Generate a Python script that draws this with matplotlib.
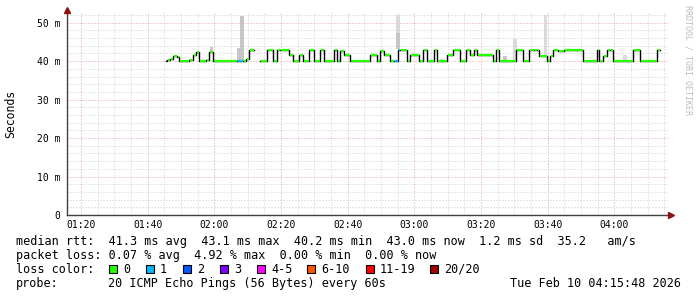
import numpy as np
import matplotlib.pyplot as plt
from matplotlib.patches import Rectangle

W, H = 697, 297

# time in minutes after 01:20, median rtt in ms, lost pings of 20
step_t = [25.5, 25.9, 26.7, 27.7, 28.7, 29.5, 32.5, 33.7, 34.5, 35.5, 37.5, 38.5,
          39.7, 46.7, 48.7, 49.5, 50.5, 51.9, 53.7, 55.7, 57.7, 58.7, 59.7, 62.4,
          63.7, 65.4, 66.7, 68.4, 70.0, 71.6, 73.0, 75.8, 76.8, 77.6, 79.0, 80.7,
          86.7, 88.7, 89.7, 90.9, 92.7, 94.0, 95.0, 95.7, 97.7, 98.7, 101.5, 102.7,
          103.7, 105.9, 106.7, 109.7, 111.7, 113.7, 115.5, 116.7, 117.9, 118.7, 123.7,
          124.5, 125.5, 130.5, 132.7, 134.5, 135.9, 136.9, 137.5, 139.7, 140.7, 141.7,
          143.0, 145.0, 150.7, 154.7, 155.4, 156.7, 157.7, 158.7, 159.7, 165.7, 167.7,
          172.7]
step_ms = [40.0, 40.3, 40.5, 41.4, 41.1, 40.0, 40.3, 41.7, 42.4, 40.0, 40.3, 42.4,
           40.0, 40.0, 40.0, 40.5, 42.8, np.nan, 40.0, 42.8, 40.0, 42.8, 43.0, 41.5,
           40.0, 41.5, 40.0, 42.9, 40.0, 42.9, 40.0, 42.9, 40.0, 42.6, 41.5, 40.0,
           41.5, 40.0, 42.6, 41.5, 40.0, 40.0, 42.9, 42.8, 40.0, 41.5, 40.0, 42.8,
           40.0, 42.8, 40.0, 41.5, 42.8, 40.0, 42.9, 41.5, 42.9, 41.5, 40.0,
           42.9, 40.0, 42.8, 40.0, 42.8, 43.0, 42.8, 41.4, 40.0, 41.4, 42.9,
           42.6, 42.8, 40.0, 42.8, 40.0, 41.4, 42.8, 42.9, 40.0, 42.9, 40.0,
           42.9]
step_loss = [0] * len(step_t)
step_loss[13] = 1
step_loss[41] = 1
step_loss[42] = 1
t_last = 173.7

# smoke (spread of the 20 pings)
smoke_t0 = [38.6, 46.7, 47.6, 94.6, 94.6, 107.7, 113.7, 126.7, 129.7, 138.9, 146.7, 162.7]
smoke_t1 = [39.6, 48.9, 48.9, 95.6, 95.6, 108.7, 114.7, 127.7, 130.7, 139.7, 149.7, 163.7]
smoke_lo = [42.4, 40.0, 43.3, 43.2, 47.3, 40.0, 40.0, 40.0, 40.0, 41.4, 42.8, 40.0]
smoke_hi = [43.6, 43.3, 51.8, 47.3, 52.0, 40.6, 40.4, 41.4, 45.7, 52.0, 43.1, 41.7]
smoke_dense = [1, 1, 1, 1, 0, 0, 0, 1, 0, 0, 0, 0]

loss_labels = ['0', '1', '2', '3', '4-5', '6-10', '11-19', '20/20']
loss_colors = ['#26ff00', '#00b8ff', '#0059ff', '#7e00ff', '#ff00ff', '#ff5500', '#ff0000', '#a10000']

x_ticks = [0, 20, 40, 60, 80, 100, 120, 140, 160]
x_labels = ['01:20', '01:40', '02:00', '02:20', '02:40', '03:00', '03:20', '03:40', '04:00']
y_ticks = [0, 10, 20, 30, 40, 50]
y_labels = ['0', '10 m', '20 m', '30 m', '40 m', '50 m']

rtt_stats = [41.3, 43.1, 40.2, 43.0]
rtt_sd = 1.2
rtt_ams = 35.2
loss_stats = [0.07, 4.92, 0.00, 0.00]
probe_txt = '20 ICMP Echo Pings (56 Bytes) every 60s'
stamp = 'Tue Feb 10 04:15:48 2026'

mono = 'DejaVu Sans Mono'
plt.rcParams['font.family'] = mono

fig = plt.figure(figsize=(W / 100, H / 100), dpi=100)
fig.patch.set_facecolor('white')
ax = fig.add_axes([67 / W, 1 - 215 / H, (668 - 67) / W, (215 - 12.7) / H])
ax.set_xlim(-4.2, 176.1)
ax.set_ylim(0, 52.6)
for s in ax.spines.values():
    s.set_visible(False)

# grid
minor_x = [t for t in range(-5, 180, 5) if t % 20 != 0]
minor_y = [v for v in range(2, 54, 2) if v % 10 != 0]
for t in minor_x:
    ax.axvline(t, color='#cfcfcf', lw=0.72, ls=(0, (1, 2)), zorder=0)
for v in minor_y:
    ax.axhline(v, color='#cfcfcf', lw=0.72, ls=(0, (1, 2)), zorder=0)
for t in x_ticks:
    ax.axvline(t, color='#e6a0a0', lw=0.72, ls=(0, (1, 2)), zorder=0.5)
for v in y_ticks[1:]:
    ax.axhline(v, color='#e6a0a0', lw=0.72, ls=(0, (1, 2)), zorder=0.5)

# smoke
lo = np.array(smoke_lo)
hi = np.array(smoke_hi)
t0 = np.array(smoke_t0)
t1 = np.array(smoke_t1)
sc = ['#c6c6c6' if d else '#dadada' for d in smoke_dense]
ax.bar(t0, hi - lo, width=t1 - t0, bottom=lo, align='edge', color=sc, lw=0, zorder=1)

# median line: black steps, coloured by loss
xs = step_t + [t_last]
ys = step_ms + [step_ms[-1]]
ax.step(xs, ys, where='post', color='black', lw=1.0, zorder=2)
ends = step_t[1:] + [t_last]
for a, b, v, l in zip(step_t, ends, step_ms, step_loss):
    if np.isnan(v):
        continue
    ax.plot([a + 0.3, b], [v, v], color=loss_colors[l], lw=1.6, solid_capstyle='butt', zorder=3)

# axes with arrows
ax.plot([0, 0], [0, 1.013], transform=ax.transAxes, color='#404040', lw=1.0, clip_on=False, zorder=4)
ax.plot([0, 1.005], [0, 0], transform=ax.transAxes, color='#404040', lw=1.0, clip_on=False, zorder=4)
ax.plot([0], [1.013], transform=ax.transAxes, marker='^', ms=4, color='#8b1010', clip_on=False, zorder=5)
ax.plot([1.005], [0], transform=ax.transAxes, marker='>', ms=4, color='#8b1010', clip_on=False, zorder=5)

ax.set_xticks(x_ticks)
ax.set_xticklabels(x_labels)
ax.set_yticks(y_ticks)
ax.set_yticklabels(y_labels)
ax.tick_params(length=0, labelsize=7, colors='black')
ax.tick_params(axis='y', pad=5)
ax.tick_params(axis='x', pad=3.5)

fig.text(11 / W, 1 - 114 / H, 'Seconds', rotation=90, ha='center', va='center', fontsize=8.3)
fig.text(688 / W, 1 - 5 / H, 'RRDTOOL / TOBI OETIKER', rotation=270, ha='center', va='top',
         fontsize=6, color='#bdbdbd')

# legend block
lx = 16 / W
fs = 8.5
row1 = ('median rtt:  %.1f ms avg  %.1f ms max  %.1f ms min  %.1f ms now  %.1f ms sd  %.1f   am/s'
        % (rtt_stats[0], rtt_stats[1], rtt_stats[2], rtt_stats[3], rtt_sd, rtt_ams))
row2 = ('packet loss: %.2f %% avg  %.2f %% max  %.2f %% min  %.2f %% now'
        % tuple(loss_stats))
fig.text(lx, 1 - 245.3 / H, row1, fontsize=fs, va='baseline')
fig.text(lx, 1 - 259.3 / H, row2, fontsize=fs, va='baseline')
fig.text(lx, 1 - 273 / H, 'loss color:', fontsize=fs, va='baseline')
box_x = [108.7, 145.7, 182.7, 219.7, 256.7, 307.3, 365.7, 430.3]
for bx, lab, c in zip(box_x, loss_labels, loss_colors):
    fig.patches.append(Rectangle((bx / W, 1 - 272.5 / H), 8 / W, 8 / H, transform=fig.transFigure,
                                 facecolor=c, edgecolor='black', lw=0.8))
    fig.text((bx + 14.3) / W, 1 - 273 / H, lab, fontsize=fs, va='baseline')
fig.text(lx, 1 - 287 / H, 'probe:', fontsize=fs, va='baseline')
fig.text(107.5 / W, 1 - 287 / H, probe_txt, fontsize=fs, va='baseline')
fig.text(681 / W, 1 - 287 / H, stamp, fontsize=fs, va='baseline', ha='right')

fig.savefig('out.png', dpi=100, facecolor='white')
